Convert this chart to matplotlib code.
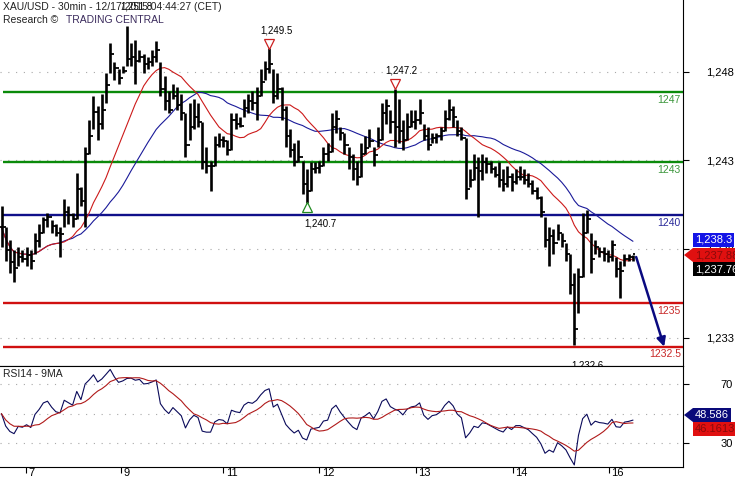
import numpy as np
import pandas as pd
import matplotlib
matplotlib.use("Agg")
import matplotlib.pyplot as plt
from matplotlib.patches import Polygon
from matplotlib.transforms import blended_transform_factory, offset_copy

plt.rcParams['font.family'] = ['Liberation Sans', 'DejaVu Sans']

# hourly bars (high / low / close)
highs = [1240.5, 1239.3, 1238.6, 1238.0, 1238.2, 1238.0, 1238.2, 1238.0, 1239.0, 1239.5,
         1239.9, 1240.1, 1239.7, 1239.5, 1239.3, 1240.9, 1240.5, 1240.1, 1242.4, 1241.6,
         1243.9, 1245.4, 1246.8, 1246.2, 1246.9, 1248.1, 1249.8, 1248.7, 1248.3, 1248.5,
         1250.75, 1249.8, 1250.0, 1249.4, 1249.2, 1249.0, 1249.4, 1249.9, 1248.7, 1247.9,
         1247.1, 1247.5, 1247.3, 1246.9, 1245.8, 1246.4, 1246.6, 1246.4, 1245.3, 1243.9,
         1243.1, 1244.5, 1244.7, 1244.5, 1244.3, 1245.8, 1245.8, 1245.6, 1246.6, 1246.9,
         1247.1, 1247.3, 1248.3, 1248.8, 1249.5, 1248.3, 1248.1, 1247.3, 1246.2, 1244.9,
         1244.1, 1244.3, 1243.1, 1242.6, 1243.0, 1243.0, 1243.1, 1243.9, 1244.1, 1245.8,
         1246.0, 1245.0, 1244.7, 1243.9, 1243.5, 1243.1, 1244.1, 1244.5, 1244.9, 1243.9,
         1245.0, 1246.4, 1246.6, 1246.0, 1247.2, 1246.6, 1245.4, 1245.8, 1246.0, 1246.0,
         1246.6, 1245.2, 1245.0, 1244.7, 1244.7, 1245.0, 1246.0, 1246.6, 1246.2, 1245.4,
         1245.0, 1244.4, 1242.6, 1243.5, 1243.3, 1243.5, 1243.3, 1243.1, 1242.8, 1243.0,
         1242.6, 1242.8, 1242.4, 1242.6, 1242.8, 1242.6, 1242.4, 1242.0, 1241.6, 1241.1,
         1239.9, 1239.3, 1239.2, 1239.5, 1239.0, 1238.4, 1237.8, 1236.7, 1237.0, 1240.1,
         1240.3, 1239.0, 1238.6, 1238.2, 1238.2, 1238.0, 1238.6, 1237.6, 1237.4, 1237.8,
         1237.8, 1237.7]
lows = [1238.2, 1237.4, 1236.7, 1236.2, 1237.1, 1237.3, 1237.1, 1236.9, 1237.8, 1238.2,
        1239.0, 1239.3, 1239.0, 1238.8, 1237.6, 1239.3, 1239.5, 1239.3, 1239.8, 1240.5,
        1239.3, 1243.5, 1244.9, 1244.3, 1244.9, 1246.4, 1248.1, 1247.7, 1247.5, 1248.1,
        1248.5, 1248.5, 1247.5, 1248.7, 1248.1, 1248.3, 1248.5, 1248.7, 1246.8, 1246.0,
        1245.8, 1246.6, 1246.0, 1245.4, 1243.3, 1244.3, 1244.9, 1245.0, 1242.6, 1242.4,
        1241.4, 1242.8, 1243.9, 1243.9, 1243.4, 1243.7, 1244.9, 1245.0, 1245.6, 1245.8,
        1246.0, 1245.4, 1246.8, 1247.7, 1248.1, 1246.4, 1246.6, 1245.4, 1243.9, 1243.3,
        1242.8, 1243.0, 1241.2, 1240.7, 1241.4, 1242.4, 1242.4, 1242.8, 1243.1, 1243.6,
        1244.7, 1244.3, 1243.5, 1242.6, 1242.0, 1241.7, 1242.2, 1243.5, 1243.9, 1242.8,
        1243.9, 1244.3, 1245.2, 1244.7, 1243.9, 1244.1, 1243.7, 1244.3, 1245.0, 1244.9,
        1245.2, 1244.3, 1243.7, 1244.1, 1244.1, 1244.3, 1244.8, 1245.4, 1245.0, 1244.5,
        1244.3, 1240.9, 1241.6, 1242.0, 1239.9, 1242.0, 1242.4, 1242.4, 1242.2, 1241.6,
        1241.4, 1241.6, 1241.4, 1241.8, 1242.0, 1241.8, 1241.6, 1241.2, 1240.9, 1239.9,
        1238.2, 1237.1, 1237.8, 1238.6, 1238.2, 1237.4, 1235.5, 1232.6, 1234.4, 1236.5,
        1239.0, 1236.7, 1237.8, 1237.6, 1237.4, 1237.3, 1237.4, 1236.5, 1235.25, 1237.1,
        1237.4, 1237.4]
closes = [1239.3, 1238.0, 1237.3, 1237.0, 1237.6, 1237.5, 1237.7, 1237.4, 1238.5, 1239.0,
          1239.7, 1239.9, 1239.4, 1239.0, 1238.9, 1240.2, 1240.0, 1239.8, 1241.5, 1240.8,
          1243.5, 1244.5, 1245.9, 1245.2, 1246.0, 1247.4, 1249.2, 1248.4, 1247.8, 1248.2,
          1248.9, 1249.0, 1248.8, 1249.0, 1248.6, 1248.7, 1249.0, 1249.4, 1247.2, 1246.5,
          1246.0, 1246.8, 1246.3, 1245.8, 1244.0, 1245.0, 1245.6, 1245.3, 1243.0, 1242.8,
          1242.8, 1244.0, 1244.3, 1244.2, 1243.7, 1245.4, 1245.2, 1245.1, 1246.1, 1246.5,
          1246.4, 1246.8, 1247.6, 1248.3, 1248.6, 1246.8, 1247.2, 1246.0, 1244.5, 1243.7,
          1243.0, 1243.3, 1241.8, 1241.4, 1242.6, 1242.7, 1242.8, 1243.5, 1243.6, 1245.0,
          1245.5, 1244.7, 1244.0, 1243.3, 1242.6, 1242.2, 1243.5, 1243.8, 1244.2, 1243.4,
          1244.3, 1245.8, 1246.2, 1245.3, 1245.0, 1244.8, 1244.3, 1245.0, 1245.3, 1245.4,
          1245.8, 1244.5, 1244.0, 1244.4, 1244.5, 1244.8, 1245.5, 1246.0, 1245.6, 1244.8,
          1244.4, 1241.5, 1242.0, 1242.7, 1242.5, 1243.0, 1242.9, 1242.6, 1242.3, 1242.0,
          1241.8, 1242.2, 1241.9, 1242.2, 1242.2, 1242.0, 1241.8, 1241.4, 1241.0, 1240.2,
          1238.6, 1238.8, 1238.4, 1239.0, 1238.5, 1237.8, 1236.0, 1233.5, 1236.5, 1239.0,
          1239.8, 1237.5, 1238.2, 1237.9, 1237.8, 1237.6, 1238.3, 1236.9, 1236.8, 1237.5,
          1237.6, 1237.76]

day_pos = [5.86, 28.6, 53.0, 76.0, 99.1, 122.3, 145.2]
day_labels = ['7', '9', '11', '12', '13', '14', '16']

levels = [1247, 1243, 1240, 1235, 1232.5]
level_names = ['1247', '1243', '1240', '1235', '1232.5']
level_colors = ['#0a8a0a', '#0a8a0a', '#10108a', '#d01010', '#d01010']
level_text_colors = ['#3c963c', '#3c963c', '#2a2a9a', '#c82828', '#c82828']

price_ticks = [1233.0, 1238.07, 1243.14, 1248.17]
price_tick_labels = ['1,233', '1,238', '1,243', '1,248']

# marked extremes: (bar, label, is_high)
extremes = [(64, '1,249.5', True), (94, '1,247.2', True), (73, '1,240.7', False)]

W, H = 735, 480
x = np.arange(len(closes))
c = pd.Series(closes)
ma_fast = c.rolling(15, min_periods=1).mean()
ma_slow = c.rolling(28, min_periods=1).mean()
opens = [closes[0]] + closes[:-1]

# RSI 14 (Wilder), started from a neutral state
gain, loss = 0.25, 0.25
rsi = [50.0]
for d in np.diff(closes):
    gain = (gain * 13 + max(d, 0)) / 14
    loss = (loss * 13 + max(-d, 0)) / 14
    rsi.append(100 - 100 / (1 + gain / loss))
rsi = pd.Series(rsi)
rsi_ma = rsi.rolling(9, min_periods=1).mean()

fig = plt.figure(figsize=(7.35, 4.8), dpi=100)
ax = fig.add_axes([0, 1 - 366 / H, 683 / W, 366 / H])
ax2 = fig.add_axes([0, 1 - 467 / H, 683 / W, 101 / H], sharex=ax)

xmax = 163.0
ax.set_xlim(-0.36, xmax)
ax.set_ylim(1231.40, 1252.26)
ax2.set_ylim(13.9, 82.4)

dots = (0, (1, 6))
for t in price_ticks:
    ax.axhline(t, color='#a8a8a8', lw=0.8, ls=dots, zorder=0)
for t in [30, 50, 70]:
    ax2.axhline(t, color='#a8a8a8', lw=0.8, ls=dots, zorder=0)

ax.hlines(levels, 0.3, xmax, colors=level_colors, lw=1.7, zorder=1)
bt = blended_transform_factory(ax.transAxes, ax.transData)
for lv, nm, tc in zip(levels, level_names, level_text_colors):
    ax.annotate(nm, (1, lv), xycoords=bt, xytext=(-1.5, -2), textcoords='offset points',
                ha='right', va='top', fontsize=7.5, color=tc)

ax.plot(x, ma_slow, color='#1a1a99', lw=0.8, zorder=2)
ax.plot(x, ma_fast, color='#cc1a1a', lw=0.8, zorder=2)
ax.vlines(x, lows, highs, color='black', lw=1.9, zorder=3)
ax.hlines(closes, x, x + 0.5, color='black', lw=1.3, zorder=3)
ax.hlines(opens, x - 0.5, x, color='black', lw=1.3, zorder=3)

for i, lab, is_high in extremes:
    if is_high:
        tr = offset_copy(ax.transData, fig=fig, y=3.3, units='points')
        ax.plot(i, highs[i], marker='v', ms=6.5, mfc='white', mec='#cc2020', mew=0.9,
                transform=tr, zorder=4)
        ax.annotate(lab, (i, highs[i]), xytext=(-6.5, 9.5), textcoords='offset points',
                    ha='left', va='bottom', fontsize=7)
    else:
        tr = offset_copy(ax.transData, fig=fig, y=-3.3, units='points')
        ax.plot(i, lows[i], marker='^', ms=6.5, mfc='white', mec='#208a20', mew=0.9,
                transform=tr, zorder=4)
        ax.annotate(lab, (i, lows[i]), xytext=(-2, -11), textcoords='offset points',
                    ha='left', va='top', fontsize=7)

ilow = int(np.argmin(lows))
ax.annotate('1,232.6', (ilow, lows[ilow]), xytext=(-2, -11), textcoords='offset points',
            ha='left', va='top', fontsize=7, clip_on=True)
ihigh = int(np.argmax(highs))
ax.annotate('1,251.8', (ihigh, highs[ihigh]), xytext=(-5, 11), textcoords='offset points',
            ha='left', va='bottom', fontsize=7)

# projected move
n = len(closes)
ax.annotate('', xy=(n + 6.5, levels[-1]), xytext=(n - 0.2, closes[-1] - 0.15),
            arrowprops=dict(arrowstyle='-|>', color='#0a0a80', lw=1.8, mutation_scale=13,
                            shrinkA=0, shrinkB=0), zorder=5)

ax2.plot(x, rsi, color='#0a0a5a', lw=0.8)
ax2.plot(x, rsi_ma, color='#b01a1a', lw=0.8)

for a in (ax, ax2):
    a.spines['left'].set_visible(False)
    a.yaxis.tick_right()
    a.tick_params(axis='y', direction='out', length=4, width=0.8, colors='black',
                  labelsize=8)
ax.spines['top'].set_visible(False)

ax.set_yticks(price_ticks)
ax.set_yticklabels(price_tick_labels)
ax2.set_yticks([30, 70])
ax2.set_yticklabels(['30', '70'])
for a in (ax, ax2):
    for lab in a.get_yticklabels():
        lab.set_horizontalalignment('right')
ax.tick_params(axis='y', pad=33)
ax2.tick_params(axis='y', pad=32)

ax.tick_params(axis='x', bottom=False, labelbottom=False)
ax2.set_xticks(day_pos)
ax2.tick_params(axis='x', direction='out', length=4.5, width=0.8, labelbottom=False)
bt2 = blended_transform_factory(ax2.transData, ax2.transAxes)
for p, lab in zip(day_pos, day_labels):
    ax2.text(p + 0.6, -0.005, lab, transform=bt2, ha='left', va='top', fontsize=8)

ax2.text(3 / 683, 0.92, 'RSI14 - 9MA', transform=ax2.transAxes, ha='left', va='center',
         fontsize=7.5, color='#222222')

fig.text(3 / W, 1 - 7 / H, 'XAU/USD - 30min - 12/17/2015 04:44:27 (CET)', fontsize=7.5,
         va='center', ha='left', color='#222222')
fig.text(3 / W, 1 - 20 / H, 'Research \u00a9', fontsize=7.5, va='center', ha='left',
         color='#222222')
fig.text(66 / W, 1 - 20 / H, 'TRADING CENTRAL', fontsize=7.5, va='center', ha='left',
         color='#3a2a5c')


def tag(ypx, txt, fc, tc, arrow=False):
    fig.text(695 / W, 1 - ypx / H, txt, color=tc, fontsize=8, va='center', ha='left',
             bbox=dict(boxstyle='square,pad=0.2', fc=fc, ec='none'))
    if arrow:
        pts = [[684 / W, 1 - ypx / H], [693 / W, 1 - (ypx - 7) / H], [693 / W, 1 - (ypx + 7) / H]]
        fig.patches.append(Polygon(pts, closed=True, transform=fig.transFigure, fc=fc, ec='none'))


tag(240, '1,238.3', '#1414e6', 'white')
tag(255, '1,237.88', '#e01010', '#8a0a0a', arrow=True)
tag(269, '1,237.76', 'black', 'white')
tag(415, '48.586', '#0a0a7a', 'white', arrow=True)
tag(429, '46.1613', '#e01010', '#8a0a0a')

fig.savefig('out.png', dpi=100)
